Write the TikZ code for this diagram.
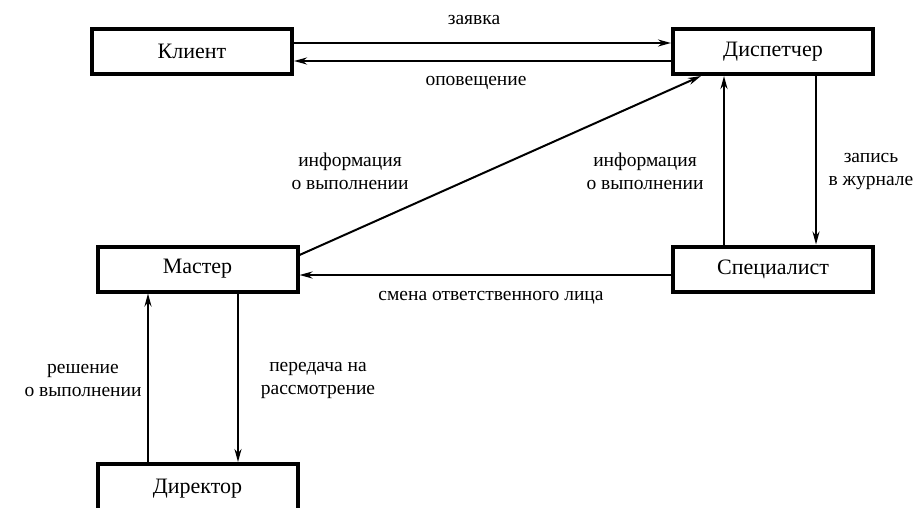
\documentclass[tikz,border=0pt]{standalone}
\usepackage{fontspec}
\setmainfont{Liberation Serif}
\usepackage{tikz}
\usetikzlibrary{arrows.meta,positioning,calc}

\begin{document}
\begin{tikzpicture}[x=1pt, y=-1pt,
  box/.style={draw, line width=4pt, minimum width=200pt,
    minimum height=45pt, align=center, font=\fontsize{22}{25}\selectfont},
  arr/.style={-{Stealth[length=13pt, width=7pt]}, line width=2pt},
  lbl/.style={align=center, inner sep=0pt, font=\fontsize{19.5}{23}\selectfont}]
  \useasboundingbox (0,0) rectangle (923,507);
  \node[box] (client) at (192,51.5) {Клиент};
  \node[box] (disp) at (773,51.5) {Диспетчер};
  \node[box] (master) at (197.5,269) {Мастер};
  \node[box] (spec) at (773,269) {Специалист};
  \node[box, minimum height=49pt] (dir) at (197.5,488.5) {Директор};
  \node[lbl] (req) at (474,20) {заявка};
  \node[lbl] (notify) at (476,83) {оповещение};
  \node[lbl] (infoL) at (350,171.5) {информация\\о выполнении};
  \node[lbl] (infoR) at (645,171.5) {информация\\о выполнении};
  \node[lbl] (log) at (871,171.5) {запись\\в журнале};
  \node[lbl] (swap) at (491,298) {смена ответственного лица};
  \node[lbl] (decide) at (83,380) {решение\\о выполнении};
  \node[lbl] (review) at (318,380) {передача на\\рассмотрение};
  \draw[arr] ([yshift=8.5pt]client.east) -- ([yshift=8.5pt]disp.west);
  \draw[arr] ([yshift=-9.5pt]disp.west) -- ([yshift=-9.5pt]client.east);
  \draw[arr] ([yshift=14pt]master.east) -- ([xshift=30pt]disp.south west);
  \draw[arr] ([xshift=-49pt]spec.north) -- ([xshift=-49pt]disp.south);
  \draw[arr] ([xshift=43pt]disp.south) -- ([xshift=43pt]spec.north);
  \draw[arr] ([yshift=-6pt]spec.west) -- ([yshift=-6pt]master.east);
  \draw[arr] ([xshift=-49.5pt]dir.north) -- ([xshift=-49.5pt]master.south);
  \draw[arr] ([xshift=40.5pt]master.south) -- ([xshift=40.5pt]dir.north);
\end{tikzpicture}
\end{document}
